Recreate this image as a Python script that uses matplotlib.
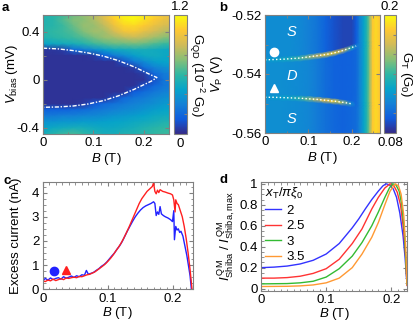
import numpy as np
import matplotlib
matplotlib.use("Agg")
import matplotlib.pyplot as plt
from matplotlib.colors import LinearSegmentedColormap
from matplotlib.ticker import MultipleLocator

plt.rcParams['font.family'] = ['Liberation Sans', 'DejaVu Sans']
plt.rcParams['mathtext.fontset'] = 'custom'
plt.rcParams['mathtext.rm'] = 'Liberation Sans'
plt.rcParams['mathtext.it'] = 'Liberation Sans:italic'
plt.rcParams['font.size'] = 9.5
plt.rcParams['axes.unicode_minus'] = False

# parula-like colormap
parula = LinearSegmentedColormap.from_list("parula", [
    "#352A87", "#0F5CDD", "#1481D6", "#06A4CA", "#2EB7A4",
    "#87BF77", "#D1BB59", "#FEC832", "#F9FB0E"])

# ---- panel a: G_QD map (10^-2 G0) ----
a_field = [0, 0.02, 0.04, 0.06, 0.08, 0.10, 0.12, 0.14, 0.16, 0.18, 0.20, 0.22, 0.24, 0.26]
a_bias = [0.55, 0.50, 0.45, 0.40, 0.35, 0.30, 0.25, 0.20, 0.15, 0.10, 0.05, 0.00,
          -0.05, -0.10, -0.15, -0.20, -0.25, -0.30, -0.35, -0.40, -0.45]
a_cond = [
    [.55, .58, .62, .70, .78, .85, .95, 1.10, 1.18, 1.20, 1.18, 1.10, 1.02, .98],
    [.55, .58, .66, .74, .75, .82, .92, 1.05, 1.15, 1.18, 1.12, 1.05, .98, .95],
    [.56, .58, .62, .70, .78, .78, .86, .98, 1.08, 1.10, 1.05, .98, .92, .90],
    [.58, .60, .62, .66, .74, .80, .80, .90, 1.00, 1.02, .96, .90, .85, .82],
    [.55, .58, .60, .62, .66, .72, .78, .80, .85, .88, .85, .80, .75, .72],
    [.45, .48, .50, .52, .56, .62, .66, .70, .70, .72, .70, .66, .62, .60],
    [.04, .04, .06, .20, .28, .35, .42, .48, .50, .52, .52, .50, .48, .46],
    [.03, .03, .03, .03, .03, .05, .15, .26, .34, .42, .48, .50, .48, .46],
    [.03, .03, .03, .03, .03, .03, .03, .03, .12, .26, .34, .42, .45, .45],
    [.03, .03, .03, .03, .03, .03, .03, .03, .03, .06, .22, .30, .36, .38],
    [.03, .03, .03, .03, .03, .03, .03, .03, .03, .03, .06, .20, .28, .30],
    [.03, .03, .03, .03, .03, .03, .03, .03, .03, .03, .03, .12, .25, .28],
    [.03, .03, .03, .03, .03, .03, .03, .03, .03, .03, .12, .20, .26, .28],
    [.03, .03, .03, .03, .03, .03, .03, .03, .03, .15, .22, .26, .30, .32],
    [.03, .03, .03, .03, .03, .03, .03, .10, .20, .25, .28, .32, .36, .38],
    [.03, .03, .03, .03, .05, .14, .20, .24, .27, .30, .33, .36, .40, .42],
    [.18, .18, .18, .20, .22, .25, .28, .30, .33, .35, .38, .42, .45, .46],
    [.28, .28, .30, .30, .32, .33, .35, .38, .40, .42, .45, .48, .50, .50],
    [.38, .38, .40, .40, .42, .42, .44, .45, .46, .48, .50, .52, .55, .55],
    [.45, .48, .50, .52, .52, .50, .48, .48, .50, .52, .55, .58, .60, .60],
    [.52, .58, .62, .65, .60, .55, .52, .52, .55, .55, .58, .60, .62, .62],
]
gap_field = [0, 0.03, 0.06, 0.09, 0.12, 0.15, 0.18, 0.20, 0.215, 0.226]
gap_top = [0.264, 0.258, 0.244, 0.224, 0.198, 0.16, 0.11, 0.07, 0.04, 0.02]
gap_bottom = [-0.228, -0.225, -0.217, -0.2, -0.172, -0.132, -0.08, -0.04, -0.01, 0.02]

# ---- panel b: G_T map (G0) ----
b_field = [0, 0.02, 0.04, 0.06, 0.08, 0.10, 0.12, 0.14, 0.16, 0.18, 0.20, 0.21,
           0.218, 0.228, 0.236, 0.242, 0.248, 0.255, 0.262, 0.27]
b_top_s = [.115, .115, .115, .115, .113, .110, .105, .098, .092, .088, .088, .095,
           .110, .125, .140, .160, .185, .190, .186, .185]
b_dot = [.116, .116, .116, .115, .114, .112, .108, .102, .098, .097, .098, .100,
         .110, .125, .140, .160, .185, .190, .186, .185]
b_bot_s = [.116, .116, .116, .115, .114, .112, .108, .103, .100, .098, .100, .102,
           .110, .125, .140, .160, .185, .190, .186, .185]
b_ridge_hi = [.122, .124, .128, .135, .145, .160, .175, .188, .190, .170, .135, .110,
              .110, .125, .140, .160, .185, .190, .186, .185]
b_ridge_lo = [.120, .122, .125, .130, .140, .155, .170, .185, .190, .160, .115, .100,
              .110, .125, .140, .160, .185, .190, .186, .185]
b_pos_hi = [-.5352, -.5351, -.5350, -.5348, -.5346, -.5342, -.5338, -.5334, -.5328,
            -.5320, -.5310, -.5305, -.5302, -.5300, -.5300, -.5300, -.5300, -.5300,
            -.5300, -.5300]
b_pos_lo = [-.5479, -.5479, -.5480, -.5481, -.5482, -.5484, -.5486, -.5489, -.5492,
            -.5496, -.5501, -.5503, -.5505, -.5505, -.5505, -.5505, -.5505, -.5505,
            -.5505, -.5505]

# ---- panel c: excess current (nA) ----
c_field_blue = [0.000, 0.004, 0.008, 0.012, 0.016, 0.020, 0.024, 0.028, 0.032, 0.036,
                0.040, 0.044, 0.048, 0.052, 0.056, 0.060, 0.064, 0.067, 0.070, 0.074,
                0.078, 0.082, 0.086, 0.090, 0.094, 0.098, 0.102, 0.106, 0.110, 0.114,
                0.118, 0.122, 0.126, 0.130, 0.134, 0.138, 0.142, 0.146, 0.150, 0.154,
                0.158, 0.162, 0.166, 0.170, 0.172, 0.174, 0.176, 0.178, 0.180, 0.182,
                0.185, 0.188, 0.192, 0.196, 0.199, 0.201, 0.202, 0.204, 0.206, 0.208,
                0.210, 0.212, 0.215, 0.218, 0.221, 0.224, 0.226, 0.228]
c_curr_blue = [0.35, 0.45, 0.38, 0.47, 0.40, 0.45, 0.48, 0.42, 0.52, 0.46,
               0.50, 0.55, 0.49, 0.56, 0.52, 0.60, 0.58, 0.78, 0.62, 0.66,
               0.70, 0.78, 0.85, 0.95, 1.02, 1.12, 1.25, 1.38, 1.50, 1.66,
               1.80, 1.98, 2.20, 2.42, 2.62, 2.82, 3.00, 3.15, 3.28, 3.38,
               3.45, 3.50, 3.55, 3.62, 3.55, 3.05, 3.20, 3.10, 3.42, 3.12,
               3.05, 3.00, 2.95, 2.88, 2.80, 3.25, 2.05, 2.60, 2.45, 2.50,
               2.35, 2.40, 2.20, 1.80, 1.40, 0.90, 0.55, 0.0]
c_field_red = [0.000, 0.004, 0.008, 0.012, 0.016, 0.020, 0.024, 0.028, 0.032, 0.036,
               0.040, 0.044, 0.048, 0.052, 0.056, 0.060, 0.064, 0.068, 0.072, 0.076,
               0.080, 0.084, 0.088, 0.092, 0.096, 0.100, 0.104, 0.108, 0.112, 0.116,
               0.120, 0.124, 0.128, 0.132, 0.136, 0.140, 0.144, 0.148, 0.152, 0.156,
               0.160, 0.164, 0.168, 0.170, 0.172, 0.174, 0.176, 0.178, 0.180, 0.184,
               0.188, 0.192, 0.196, 0.199, 0.201, 0.203, 0.204, 0.206, 0.208, 0.211,
               0.214, 0.217, 0.220, 0.223, 0.226, 0.229]
c_curr_red = [0.35, 0.32, 0.38, 0.35, 0.42, 0.36, 0.40, 0.44, 0.40, 0.47,
              0.45, 0.48, 0.50, 0.48, 0.53, 0.52, 0.56, 0.60, 0.62, 0.67,
              0.72, 0.80, 0.88, 0.96, 1.05, 1.16, 1.28, 1.42, 1.58, 1.73,
              1.90, 2.10, 2.32, 2.55, 2.80, 3.05, 3.30, 3.55, 3.75, 3.90,
              4.05, 4.15, 4.25, 4.40, 4.05, 3.95, 4.10, 4.00, 4.12, 4.05,
              4.02, 3.98, 3.95, 3.90, 3.70, 3.20, 3.70, 3.55, 3.50, 3.25,
              3.00, 2.60, 2.10, 1.50, 0.80, 0.0]

# ---- panel d: normalised Shiba current ----
d_labels = ["2", "2.5", "3", "3.5"]
d_colors = ["#3333ff", "#ff3333", "#33bb33", "#ff9933"]
d_field = [
    [0, 0.02, 0.04, 0.06, 0.08, 0.10, 0.12, 0.14, 0.15, 0.16, 0.17, 0.18, 0.187,
     0.192, 0.197, 0.203, 0.208, 0.213, 0.218, 0.221, 0.224],
    [0, 0.02, 0.04, 0.06, 0.08, 0.10, 0.12, 0.14, 0.155, 0.17, 0.18, 0.19, 0.198,
     0.204, 0.209, 0.214, 0.219, 0.222, 0.224],
    [0, 0.04, 0.06, 0.08, 0.10, 0.12, 0.14, 0.155, 0.17, 0.18, 0.19, 0.197, 0.202,
     0.207, 0.212, 0.216, 0.22, 0.224],
    [0, 0.04, 0.06, 0.08, 0.10, 0.12, 0.14, 0.155, 0.17, 0.18, 0.19, 0.198, 0.206,
     0.211, 0.215, 0.219, 0.222, 0.224],
]
d_current = [
    [0.20, 0.205, 0.215, 0.235, 0.27, 0.33, 0.43, 0.58, 0.665, 0.76, 0.85, 0.93, 0.98,
     1.0, 0.99, 0.95, 0.87, 0.72, 0.5, 0.3, 0.04],
    [0.10, 0.10, 0.105, 0.118, 0.145, 0.19, 0.28, 0.43, 0.57, 0.76, 0.87, 0.96, 1.0,
     0.98, 0.92, 0.8, 0.55, 0.3, 0.03],
    [0.045, 0.048, 0.055, 0.07, 0.11, 0.19, 0.31, 0.44, 0.6, 0.73, 0.87, 0.96, 1.0,
     0.99, 0.93, 0.8, 0.55, 0.04],
    [0.02, 0.022, 0.026, 0.035, 0.055, 0.10, 0.20, 0.33, 0.49, 0.63, 0.8, 0.93, 1.0,
     0.98, 0.9, 0.7, 0.4, 0.04],
]

W, H = 415, 322
fig = plt.figure(figsize=(W / 100, H / 100), dpi=100)


def box(l, t, r, b):
    return [l / W, 1 - b / H, (r - l) / W, (b - t) / H]


frame = '#808080'


def style(ax):
    for s in ax.spines.values():
        s.set_color(frame)
        s.set_linewidth(0.8)
    ax.tick_params(which='both', direction='in', top=True, right=True, color=frame,
                   pad=2.5)
    ax.tick_params(which='major', length=3)
    ax.tick_params(which='minor', length=1.8)


# panel a
ax_a = fig.add_axes(box(43, 15, 169, 134))
m_a = ax_a.pcolormesh(a_field, a_bias, a_cond, shading='gouraud', cmap=parula,
                      vmin=0, vmax=1.2, rasterized=True)
ax_a.plot(gap_field + gap_field[::-1], gap_top + gap_bottom[::-1], color='white',
          lw=1, ls=(0, (3, 1.2, 1, 1.2)))
ax_a.set_xlim(0, 0.25)
ax_a.set_ylim(-0.45, 0.54)
ax_a.set_xticks([0, 0.1, 0.2])
ax_a.set_xticklabels(['0', '0.1', '0.2'])
ax_a.xaxis.set_minor_locator(MultipleLocator(0.05))
ax_a.set_yticks([-0.4, 0, 0.4])
ax_a.set_yticklabels(['-0.4', '0', '0.4'])
ax_a.yaxis.set_minor_locator(MultipleLocator(0.2))
style(ax_a)
ax_a.set_xlabel('$B$ (T)', labelpad=1)
ax_a.set_ylabel('$V_{\\mathrm{bias}}$ (mV)')
ax_a.yaxis.set_label_coords(-0.18, 0.5)

cax_a = fig.add_axes(box(174, 15, 187, 134))
cb_a = fig.colorbar(m_a, cax=cax_a, ticks=[0.2, 0.4, 0.6, 0.8, 1.0])
cb_a.ax.set_yticklabels([])
cb_a.ax.tick_params(direction='in', length=2, color=frame)
cb_a.outline.set_edgecolor(frame)
cax_a.text(0.5, 1.02, '1.2', transform=cax_a.transAxes, ha='center', va='bottom')
cax_a.text(0.5, -0.03, '0', transform=cax_a.transAxes, ha='center', va='top')
cax_a.text(1.75, 0.5, 'G$_{\\mathrm{QD}}$ (10$^{-2}$ G$_0$)', rotation=-90,
           transform=cax_a.transAxes, ha='center', va='center')

# panel b
ax_b = fig.add_axes(box(265, 15, 380, 133))
bf = np.array(b_field)
hi = np.array(b_pos_hi)
lo = np.array(b_pos_lo)
w = 0.0011
ys = np.vstack([np.full_like(bf, -0.56), lo - w, lo, lo + w, hi - w, hi, hi + w,
                np.full_like(bf, -0.52)])
cs = np.vstack([b_bot_s, b_bot_s, b_ridge_lo, b_dot, b_dot, b_ridge_hi, b_top_s,
                b_top_s])
xs = np.tile(bf, (ys.shape[0], 1))
m_b = ax_b.pcolormesh(xs, ys, cs, shading='gouraud', cmap=parula, vmin=0.08, vmax=0.2,
                      rasterized=True)
ax_b.plot(b_field[:12], b_pos_hi[:12], color='white', lw=1, ls=':')
ax_b.plot(b_field[:11], b_pos_lo[:11], color='white', lw=1, ls=':')
ax_b.plot([0.021], [-0.5324], 'o', color='white', ms=6)
ax_b.plot([0.021], [-0.5448], '^', color='white', ms=6)
for lbl, v in [('S', -0.5257), ('D', -0.5407), ('S', -0.5554)]:
    ax_b.text(0.061, v, lbl, color='white', style='italic', fontsize=10.5,
              ha='center', va='center')
ax_b.set_xlim(0, 0.265)
ax_b.set_ylim(-0.56, -0.52)
ax_b.set_xticks([0, 0.1, 0.2])
ax_b.set_xticklabels(['0', '0.1', '0.2'])
ax_b.xaxis.set_minor_locator(MultipleLocator(0.05))
ax_b.set_yticks([-0.56, -0.54, -0.52])
ax_b.set_yticklabels(['-0.56', '-0.54', '-0.52'])
ax_b.yaxis.set_minor_locator(MultipleLocator(0.01))
style(ax_b)
ax_b.set_xlabel('$B$ (T)', labelpad=1)
ax_b.set_ylabel('$V_{\\mathrm{P}}$ (V)')
ax_b.yaxis.set_label_coords(-0.35, 0.5)

cax_b = fig.add_axes(box(384, 15, 396, 133))
cb_b = fig.colorbar(m_b, cax=cax_b, ticks=[0.1, 0.12, 0.14, 0.16, 0.18])
cb_b.ax.set_yticklabels([])
cb_b.ax.tick_params(direction='in', length=2, color=frame)
cb_b.outline.set_edgecolor(frame)
cax_b.text(0.5, 1.02, '0.2', transform=cax_b.transAxes, ha='center', va='bottom')
cax_b.text(0.5, -0.03, '0.08', transform=cax_b.transAxes, ha='center', va='top')
cax_b.text(1.85, 0.5, 'G$_\\mathrm{T}$ (G$_0$)', rotation=-90,
           transform=cax_b.transAxes, ha='center', va='center')

# panel c
ax_c = fig.add_axes(box(42.7, 181.7, 192.7, 289.3))
ax_c.plot(c_field_blue, c_curr_blue, color='#2222ff', lw=1)
ax_c.plot(c_field_red, c_curr_red, color='#ff2020', lw=1)
ax_c.plot([0.0174], [0.77], 'o', color='#2222ff', ms=6)
ax_c.plot([0.035], [0.8], '^', color='#ff2020', ms=6)
ax_c.set_xlim(0, 0.23)
ax_c.set_ylim(0, 4.45)
ax_c.set_xticks([0, 0.1, 0.2])
ax_c.set_xticklabels(['0', '0.1', '0.2'])
ax_c.xaxis.set_minor_locator(MultipleLocator(0.01))
ax_c.set_yticks([0, 1, 2, 3, 4])
ax_c.yaxis.set_minor_locator(MultipleLocator(0.25))
style(ax_c)
ax_c.set_xlabel('$B$ (T)', labelpad=0)
ax_c.set_ylabel('Excess current (nA)')
ax_c.yaxis.set_label_coords(-0.14, 0.5)

# panel d
ax_d = fig.add_axes(box(261, 181.7, 407, 290.7))
for fld, cur, col, lbl in zip(d_field, d_current, d_colors, d_labels):
    ax_d.plot(fld, cur, color=col, lw=1, label=lbl)
ax_d.set_xlim(0, 0.224)
ax_d.set_ylim(-0.02, 1.02)
ax_d.set_xticks([0, 0.1, 0.2])
ax_d.set_xticklabels(['0', '0.1', '0.2'])
ax_d.xaxis.set_minor_locator(MultipleLocator(0.01))
ax_d.set_yticks([0, 0.2, 0.4, 0.6, 0.8, 1.0])
ax_d.set_yticklabels(['0', '0.2', '0.4', '0.6', '0.8', '1'])
ax_d.yaxis.set_minor_locator(MultipleLocator(0.05))
style(ax_d)
ax_d.set_xlabel('$B$ (T)', labelpad=0)
ax_d.set_ylabel('$I^{\\,\\mathrm{QM}}_{\\mathrm{Shiba}}$ / '
                '$I^{\\,\\mathrm{QM}}_{\\mathrm{Shiba,max}}$')
ax_d.yaxis.set_label_coords(-0.165, 0.5)
leg = ax_d.legend(title='$x_{\\mathrm{T}}/\\pi\\xi_0$', loc='upper left', frameon=False,
                  handlelength=1.2, handletextpad=0.4, labelspacing=0.25,
                  borderaxespad=0.2, borderpad=0.1, fontsize=9.5,
                  title_fontsize=9.5)
leg._legend_box.align = 'left'

for lbl, x, y in [('a', 2, 8), ('b', 219, 8), ('c', 3, 181), ('d', 219, 180)]:
    fig.text(x / W, 1 - y / H, lbl, weight='bold', fontsize=9.5, ha='left',
             va='center')

fig.savefig('out.png', dpi=100)
